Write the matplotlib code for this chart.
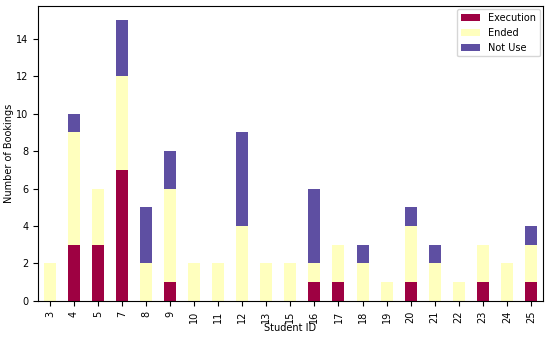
import matplotlib
matplotlib.use("Agg")
import matplotlib.pyplot as plt
import pandas as pd

# --- DATA ---
student_ids = [3, 4, 5, 7, 8, 9, 10, 11, 12, 13, 15, 16, 17, 18, 19, 20, 21, 22, 23, 24, 25]
execution = [0, 3, 3, 7, 0, 1, 0, 0, 0, 0, 0, 1, 1, 0, 0, 1, 0, 0, 1, 0, 1]
ended = [2, 6, 3, 5, 2, 5, 2, 2, 4, 2, 2, 1, 2, 2, 1, 3, 2, 1, 2, 2, 2]
not_use = [0, 1, 0, 3, 3, 2, 0, 0, 5, 0, 0, 4, 0, 1, 0, 1, 1, 0, 0, 0, 1]

df = pd.DataFrame({"Execution": execution, "Ended": ended, "Not Use": not_use},
                  index=student_ids)

plt.rcParams["font.size"] = 7

fig, ax = plt.subplots(figsize=(5.5, 3.37), dpi=100)
df.plot(kind="bar", stacked=True, colormap="Spectral", ax=ax)

ax.set_xlabel("Student ID", labelpad=0)
ax.set_ylabel("Number of Bookings", labelpad=1)
ax.legend(loc="upper right", borderaxespad=0.3)

fig.subplots_adjust(left=0.069, right=0.987, top=0.982, bottom=0.107)
fig.savefig("out.png", dpi=100)
